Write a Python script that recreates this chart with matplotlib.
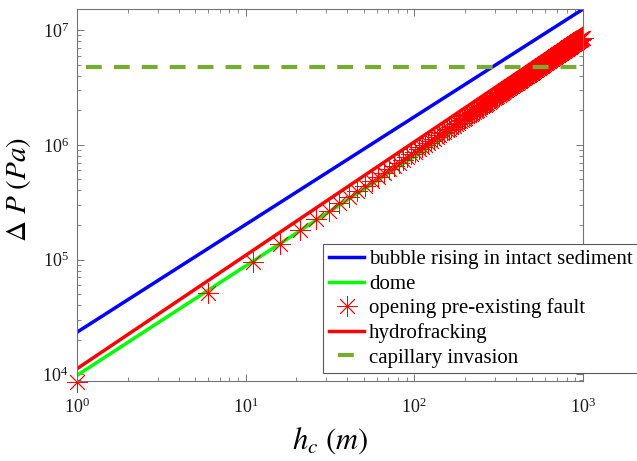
import matplotlib
matplotlib.use("Agg")
import matplotlib.pyplot as plt

plt.rcParams['font.family'] = ['Liberation Serif', 'DejaVu Serif']
plt.rcParams['mathtext.fontset'] = 'stix'

# ---------------- data ----------------
hc_line = [1, 1000]                      # end points of the straight (log-log) model lines
dp_bubble = [2.33e4, 1.52e7]             # bubble rising in intact sediment
dp_dome = [9.8e3, 7.1e6]                 # dome
dp_hydrofrack = [1.12e4, 1.03e7]         # hydrofracking
dp_capillary = [4.79e6, 4.79e6]          # capillary invasion

# opening pre-existing fault: markers every 5 m
hc_fault = [
    1, 6, 11, 16, 21, 26, 31, 36, 41, 46, 51, 56, 61, 66, 71, 76, 81, 86, 91, 96,
    101, 106, 111, 116, 121, 126, 131, 136, 141, 146, 151, 156, 161, 166, 171, 176, 181, 186, 191, 196,
    201, 206, 211, 216, 221, 226, 231, 236, 241, 246, 251, 256, 261, 266, 271, 276, 281, 286, 291, 296,
    301, 306, 311, 316, 321, 326, 331, 336, 341, 346, 351, 356, 361, 366, 371, 376, 381, 386, 391, 396,
    401, 406, 411, 416, 421, 426, 431, 436, 441, 446, 451, 456, 461, 466, 471, 476, 481, 486, 491, 496,
    501, 506, 511, 516, 521, 526, 531, 536, 541, 546, 551, 556, 561, 566, 571, 576, 581, 586, 591, 596,
    601, 606, 611, 616, 621, 626, 631, 636, 641, 646, 651, 656, 661, 666, 671, 676, 681, 686, 691, 696,
    701, 706, 711, 716, 721, 726, 731, 736, 741, 746, 751, 756, 761, 766, 771, 776, 781, 786, 791, 796,
    801, 806, 811, 816, 821, 826, 831, 836, 841, 846, 851, 856, 861, 866, 871, 876, 881, 886, 891, 896,
    901, 906, 911, 916, 921, 926, 931, 936, 941, 946, 951, 956, 961, 966, 971, 976, 981, 986, 991, 996,
]
dp_fault_kpa = [
    8.6, 51.6, 94.6, 137.6, 180.6, 223.6, 266.6, 309.6, 352.6, 395.6,
    438.6, 481.6, 524.6, 567.6, 610.6, 653.6, 696.6, 739.6, 782.6, 825.6,
    868.6, 911.6, 954.6, 997.6, 1040.6, 1083.6, 1126.6, 1169.6, 1212.6, 1255.6,
    1298.6, 1341.6, 1384.6, 1427.6, 1470.6, 1513.6, 1556.6, 1599.6, 1642.6, 1685.6,
    1728.6, 1771.6, 1814.6, 1857.6, 1900.6, 1943.6, 1986.6, 2029.6, 2072.6, 2115.6,
    2158.6, 2201.6, 2244.6, 2287.6, 2330.6, 2373.6, 2416.6, 2459.6, 2502.6, 2545.6,
    2588.6, 2631.6, 2674.6, 2717.6, 2760.6, 2803.6, 2846.6, 2889.6, 2932.6, 2975.6,
    3018.6, 3061.6, 3104.6, 3147.6, 3190.6, 3233.6, 3276.6, 3319.6, 3362.6, 3405.6,
    3448.6, 3491.6, 3534.6, 3577.6, 3620.6, 3663.6, 3706.6, 3749.6, 3792.6, 3835.6,
    3878.6, 3921.6, 3964.6, 4007.6, 4050.6, 4093.6, 4136.6, 4179.6, 4222.6, 4265.6,
    4308.6, 4351.6, 4394.6, 4437.6, 4480.6, 4523.6, 4566.6, 4609.6, 4652.6, 4695.6,
    4738.6, 4781.6, 4824.6, 4867.6, 4910.6, 4953.6, 4996.6, 5039.6, 5082.6, 5125.6,
    5168.6, 5211.6, 5254.6, 5297.6, 5340.6, 5383.6, 5426.6, 5469.6, 5512.6, 5555.6,
    5598.6, 5641.6, 5684.6, 5727.6, 5770.6, 5813.6, 5856.6, 5899.6, 5942.6, 5985.6,
    6028.6, 6071.6, 6114.6, 6157.6, 6200.6, 6243.6, 6286.6, 6329.6, 6372.6, 6415.6,
    6458.6, 6501.6, 6544.6, 6587.6, 6630.6, 6673.6, 6716.6, 6759.6, 6802.6, 6845.6,
    6888.6, 6931.6, 6974.6, 7017.6, 7060.6, 7103.6, 7146.6, 7189.6, 7232.6, 7275.6,
    7318.6, 7361.6, 7404.6, 7447.6, 7490.6, 7533.6, 7576.6, 7619.6, 7662.6, 7705.6,
    7748.6, 7791.6, 7834.6, 7877.6, 7920.6, 7963.6, 8006.6, 8049.6, 8092.6, 8135.6,
    8178.6, 8221.6, 8264.6, 8307.6, 8350.6, 8393.6, 8436.6, 8479.6, 8522.6, 8565.6,
]
dp_fault = [v * 1e3 for v in dp_fault_kpa]

labels = ['bubble rising in intact sediment', 'dome', 'opening pre-existing fault',
          'hydrofracking', 'capillary invasion']

# ---------------- figure ----------------
fig = plt.figure(figsize=(6.37, 4.61), dpi=100)
ax = fig.add_axes([0.121, 0.173, 0.794, 0.807])

c_blue = (0, 0, 1)
c_green = (0, 1, 0)
c_red = (1, 0, 0)
c_cap = (0.466, 0.674, 0.188)

ax.plot(hc_line, dp_bubble, color=c_blue, lw=2.5, label=labels[0])
ax.plot(hc_line, dp_dome, color=c_green, lw=2.5, label=labels[1])
ax.plot(hc_fault, dp_fault, linestyle='none', marker=(8, 2, 0), markersize=15,
        markeredgewidth=0.6, color=c_red, clip_on=False, label=labels[2])
ax.plot(hc_line, dp_hydrofrack, color=c_red, lw=2.5, label=labels[3])
ax.plot(hc_line, dp_capillary, color=c_cap, lw=3, linestyle=(4.55, (3.8, 2.9)),
        label=labels[4])

ax.set_xscale('log')
ax.set_yscale('log')
ax.set_xlim(1, 1000)
ax.set_ylim(8.7e3, 1.52e7)

for sp in ax.spines.values():
    sp.set_color('0.45')
    sp.set_linewidth(0.8)
ax.tick_params(which='both', direction='in', top=True, right=True, color='0.45',
               labelsize=13, labelcolor='0.1')
ax.tick_params(which='major', length=5, width=0.7)
ax.tick_params(which='minor', length=3, width=0.6)
ax.tick_params(axis='x', pad=12)
ax.tick_params(axis='y', pad=6)

ax.set_xlabel(r'$h_c\ (m)$', fontsize=22)
ax.xaxis.set_label_coords(0.5, -0.118)
ax.set_ylabel(r'$\Delta\ P\ (Pa)$', fontsize=21)
ax.yaxis.set_label_coords(-0.088, 0.516)

leg = ax.legend(loc='upper left', bbox_to_anchor=(323 / 637, 1 - 244 / 461),
                bbox_transform=fig.transFigure, borderaxespad=0, fontsize=15,
                frameon=True, fancybox=False, framealpha=1, edgecolor='0.35',
                handlelength=1.7, handletextpad=0.24, labelspacing=0.23,
                borderpad=0.28, numpoints=1)
leg.get_frame().set_linewidth(0.8)

fig.savefig('out.png', dpi=100)
